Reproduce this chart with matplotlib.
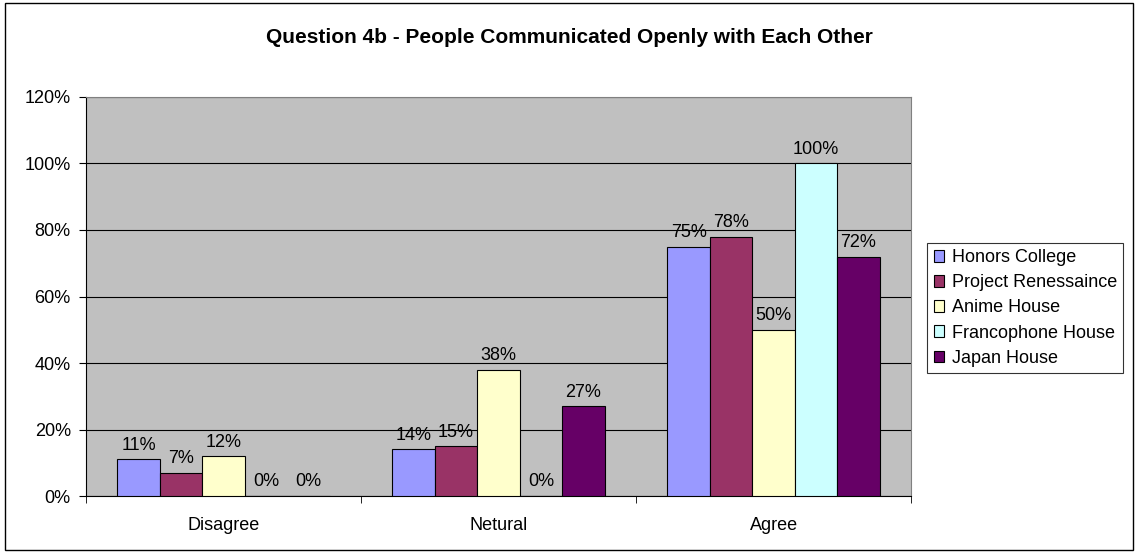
import numpy as np
import matplotlib.pyplot as plt
from matplotlib.patches import Rectangle
from matplotlib.ticker import FixedLocator, NullFormatter

plt.rcParams['font.family'] = ['Liberation Sans', 'DejaVu Sans']

categories = ["Disagree", "Netural", "Agree"]
series = ["Honors College", "Project Renessaince", "Anime House",
          "Francophone House", "Japan House"]
honors = [11, 14, 75]
renessaince = [7, 15, 78]
anime = [12, 38, 50]
francophone = [0, 0, 100]
japan = [0, 27, 72]
values = [honors, renessaince, anime, francophone, japan]
colors = ["#9999FF", "#993366", "#FFFFCC", "#CCFFFF", "#660066"]

fig = plt.figure(figsize=(11.35, 5.52), dpi=100)
fig.patches.append(Rectangle((0.004, 0.004), 0.994, 0.99, transform=fig.transFigure,
                             fill=False, edgecolor="black", linewidth=1))
ax = fig.add_axes([0.0758, 0.1014, 0.7269, 0.7229])
ax.set_facecolor("#C0C0C0")

x = np.arange(len(categories))
width = 0.1545
for i, (name, vals, c) in enumerate(zip(series, values, colors)):
    pos = x + (i - 2) * width
    ax.bar(pos, vals, width=width, color=c, edgecolor="black", linewidth=0.8,
           label=name, zorder=3)
    for p, v in zip(pos, vals):
        ax.annotate(f"{v}%", (p, v), xytext=(0, 4), textcoords="offset points",
                    ha="center", va="bottom", fontsize=13, zorder=4)

ax.set_xlim(-0.5, 2.5)
ax.set_ylim(0, 120)
ax.set_yticks(np.arange(0, 121, 20))
ax.set_yticklabels([f"{t}%" for t in range(0, 121, 20)], fontsize=13)
ax.set_xticks(x)
ax.set_xticklabels(categories, fontsize=13)
ax.tick_params(axis="x", length=0, pad=15)
ax.xaxis.set_minor_locator(FixedLocator([-0.5, 0.5, 1.5, 2.5]))
ax.xaxis.set_minor_formatter(NullFormatter())
ax.tick_params(axis="x", which="minor", length=5, color="black")
ax.tick_params(axis="y", length=5, color="black", pad=6)
ax.grid(axis="y", color="black", linewidth=0.8, zorder=1)
for s in ["top", "right"]:
    ax.spines[s].set_color("#808080")
for s in ["left", "bottom"]:
    ax.spines[s].set_color("black")

fig.text(0.502, 0.932, "Question 4b - People Communicated Openly with Each Other",
         fontsize=15, fontweight="bold", ha="center", va="center")

leg = fig.legend(loc="upper left", bbox_to_anchor=(0.817, 0.56), fontsize=13,
                 frameon=True, fancybox=False, edgecolor="black", handlelength=0.6,
                 handleheight=0.6, handletextpad=0.4, borderpad=0.35, labelspacing=0.45,
                 borderaxespad=0)
leg.get_frame().set_linewidth(0.8)

fig.savefig("out.png", dpi=100)
